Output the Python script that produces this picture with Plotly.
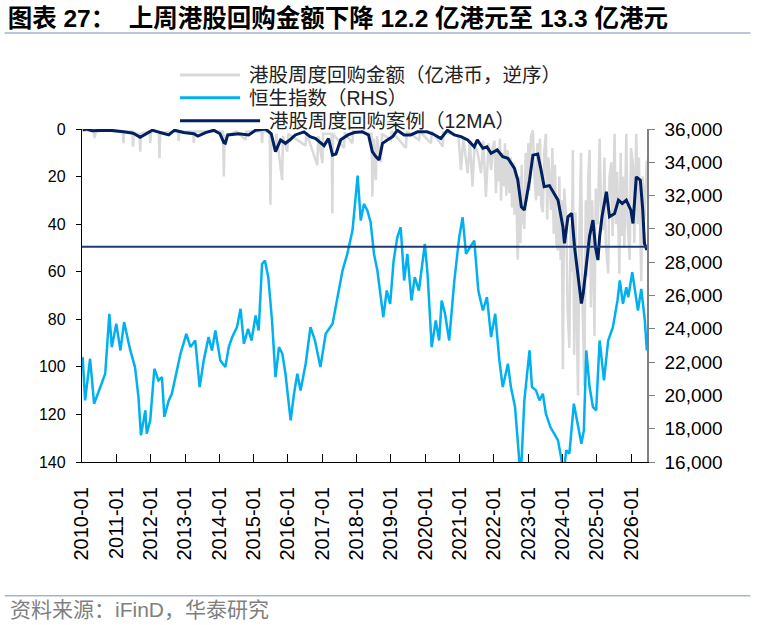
import plotly.graph_objects as go

# 港股周度回购金额（亿港币），左轴逆序
buyback_dates = [
    "2010-01-08", "2010-03-01", "2010-05-01", "2010-05-15", "2010-05-29", "2010-09-01",
    "2011-01-01", "2011-03-10", "2011-03-18", "2011-03-26", "2011-06-20", "2011-06-28",
    "2011-07-06", "2011-09-05", "2011-09-12", "2011-09-20", "2011-12-20", "2011-12-28",
    "2012-01-05", "2012-03-28", "2012-04-05", "2012-04-12", "2012-10-18", "2012-10-26",
    "2012-11-03", "2013-03-28", "2013-04-05", "2013-04-13", "2013-09-01", "2014-02-10",
    "2014-02-18", "2014-02-26", "2014-07-01", "2014-10-08", "2014-10-16", "2015-03-25",
    "2015-04-01", "2015-04-09", "2015-06-21", "2015-06-29", "2015-07-07", "2015-08-21",
    "2015-09-01", "2015-11-01", "2015-11-09", "2015-12-24", "2016-01-05", "2016-07-07",
    "2016-07-15", "2016-11-09", "2016-11-20", "2017-01-02", "2017-01-10", "2017-04-10",
    "2017-04-18", "2017-04-26", "2017-08-20", "2017-08-28", "2017-11-17", "2017-11-25",
    "2018-06-10", "2018-06-18", "2018-07-01", "2018-07-24", "2018-08-05", "2018-09-16",
    "2018-09-28", "2019-01-01", "2019-01-10", "2019-06-10", "2019-06-20", "2019-10-27",
    "2019-11-05", "2020-03-03", "2020-03-12", "2020-07-05", "2020-07-15", "2020-10-01",
    "2020-12-20", "2021-01-15", "2021-02-10", "2021-03-28", "2021-04-20", "2021-05-18",
    "2021-06-10", "2021-07-12", "2021-08-17", "2021-09-10", "2021-10-08", "2021-11-05",
    "2021-12-02", "2021-12-20",
    "2022-01-07", "2022-01-23", "2022-02-06", "2022-02-20", "2022-03-06", "2022-03-18",
    "2022-04-01", "2022-04-15", "2022-04-29", "2022-05-13", "2022-05-27", "2022-06-15",
    "2022-06-29", "2022-07-13", "2022-07-27", "2022-08-08", "2022-08-22", "2022-09-12",
    "2022-09-26", "2022-10-10", "2022-10-24", "2022-11-07", "2022-11-21", "2022-12-05",
    "2022-12-19", "2023-01-02", "2023-01-16", "2023-01-30", "2023-02-20", "2023-03-06",
    "2023-03-25", "2023-04-08", "2023-04-22", "2023-05-06", "2023-05-20", "2023-06-06",
    "2023-06-20", "2023-07-08", "2023-07-22", "2023-08-05", "2023-08-19", "2023-09-01",
    "2023-09-15", "2023-09-29", "2023-10-13", "2023-10-27", "2023-11-14", "2023-11-28",
    "2023-12-12", "2023-12-22", "2024-01-05", "2024-01-19", "2024-02-10", "2024-02-24",
    "2024-03-14", "2024-03-28", "2024-04-08", "2024-04-20", "2024-05-04", "2024-05-18",
    "2024-06-01", "2024-06-14", "2024-06-28", "2024-07-16", "2024-07-30", "2024-08-21",
    "2024-09-04", "2024-09-18", "2024-10-01", "2024-10-15", "2024-10-29", "2024-11-12",
    "2024-11-26", "2024-12-06", "2024-12-20", "2025-01-10", "2025-01-30", "2025-02-14",
    "2025-03-08", "2025-03-22", "2025-04-05", "2025-05-01", "2025-05-15", "2025-06-03",
    "2025-06-17", "2025-07-08", "2025-07-22", "2025-08-05", "2025-08-28", "2025-09-11",
    "2025-09-25", "2025-10-05", "2025-10-20", "2025-11-10", "2025-11-24", "2025-12-16",
    "2025-12-30", "2026-01-20", "2026-02-03", "2026-02-24", "2026-03-10", "2026-03-24",
    "2026-04-18", "2026-05-02", "2026-05-22", "2026-06-16",
]
buyback_vals = [
    1, 0.5, 1, 3.8, 1, 0.5,
    1, 1, 6, 1, 1, 7.4,
    2, 2, 9.5, 2, 1, 6,
    1, 1, 12.3, 1.5, 1, 5,
    1, 1, 6, 1, 1, 1,
    20, 3, 1, 4.6, 1, 1,
    6, 1, 1, 31.8, 3, 9.5,
    2, 21.5, 3, 9.5, 2, 7,
    1.5, 15.2, 3, 14.4, 2, 2,
    35.5, 2, 8, 1.5, 6, 1,
    2, 28.5, 4, 21.5, 3, 14,
    2, 4.6, 1, 8, 1, 4.6,
    1, 6, 1, 7.4, 1.5, 2,
    3, 17.3, 4, 18.6, 5, 24.3,
    6, 10, 18.6, 5, 28.5, 6,
    17.3, 8,
    5, 27, 8, 22, 4, 30,
    10, 24, 6, 28, 9, 27,
    12, 33, 14, 36, 18, 55,
    20, 48, 15, 38, 42, 10,
    30, 6, 26, 3, 0.5, 18,
    30, 6, 28, 4, 32, 35,
    10, 2, 38, 12, 25, 34,
    8, 44, 15, 48, 51, 20,
    55, 30, 101, 25, 38, 76,
    92, 40, 60, 8.8, 95, 35,
    80, 112, 45, 10, 70, 108,
    30, 62, 20, 8.8, 75, 30,
    60, 87, 25, 40, 4, 33,
    42.5, 12, 48, 60.7, 20, 14,
    45, 2, 40, 18, 61, 10,
    45, 20, 50, 2, 40, 55,
    8, 15, 48, 2, 40, 12,
    64, 20, 38, 13.3,
]

# 恒生指数（RHS）
hsi_dates = [
    "2010-01-08", "2010-02-03", "2010-03-28", "2010-05-10", "2010-09-05", "2010-10-19",
    "2010-11-14", "2011-01-01", "2011-02-14", "2011-03-25", "2011-05-30", "2011-07-19",
    "2011-08-25", "2011-09-20", "2011-11-06", "2011-11-21", "2011-12-28", "2012-02-10",
    "2012-03-25", "2012-05-01", "2012-05-26", "2012-07-12", "2012-08-14", "2012-10-08",
    "2012-11-14", "2013-01-15", "2013-02-28", "2013-04-20", "2013-06-06", "2013-07-19",
    "2013-09-09", "2013-10-15", "2013-11-20", "2014-01-12", "2014-03-06", "2014-04-12",
    "2014-05-18", "2014-07-08", "2014-08-15", "2014-09-20", "2014-11-03", "2014-12-10",
    "2015-01-22", "2015-02-24", "2015-04-01", "2015-05-01", "2015-06-06", "2015-07-16",
    "2015-08-22", "2015-09-28", "2015-11-03", "2015-12-06", "2016-01-30", "2016-03-06",
    "2016-04-10", "2016-05-15", "2016-07-08", "2016-08-28", "2016-10-15", "2016-12-12",
    "2017-02-06", "2017-04-20", "2017-06-10", "2017-08-04", "2017-09-24", "2017-11-18",
    "2018-01-12", "2018-02-14", "2018-03-20", "2018-04-26", "2018-05-30", "2018-07-05",
    "2018-08-10", "2018-10-12", "2018-11-18", "2018-12-24", "2019-01-30", "2019-03-10",
    "2019-04-15", "2019-05-22", "2019-06-25", "2019-08-08", "2019-09-12", "2019-10-26",
    "2019-12-28", "2020-01-26", "2020-03-10", "2020-04-22", "2020-05-28", "2020-06-24",
    "2020-07-30", "2020-09-12", "2020-11-06", "2020-12-28", "2021-02-02", "2021-03-10",
    "2021-04-22", "2021-06-06", "2021-07-19", "2021-09-06", "2021-10-19", "2021-12-02",
    "2022-01-15", "2022-02-28", "2022-04-05", "2022-05-30", "2022-07-01", "2022-08-14",
    "2022-09-28", "2022-10-12", "2022-10-24", "2022-11-21", "2023-01-15", "2023-02-10",
    "2023-03-25", "2023-05-01", "2023-06-06", "2023-07-08", "2023-08-25", "2023-10-08",
    "2023-11-14", "2023-12-16", "2024-01-12", "2024-02-10", "2024-03-14", "2024-05-01",
    "2024-06-14", "2024-07-20", "2024-08-15", "2024-09-10", "2024-10-15", "2024-11-20",
    "2024-12-24", "2025-01-30", "2025-03-17", "2025-05-01", "2025-06-20", "2025-08-08",
    "2025-09-02", "2025-10-05", "2025-11-10", "2025-12-01", "2026-01-12", "2026-02-06",
    "2026-03-14", "2026-04-18", "2026-05-26", "2026-06-16",
]
hsi_vals = [
    22300, 19700, 22200, 19500, 21300, 24900,
    22900, 24300, 22700, 24400, 22700, 21700,
    19900, 17600, 19100, 17700, 18500, 21600,
    20900, 21100, 18700, 19700, 20100, 21500,
    22500, 23700, 22900, 23300, 20500, 22100,
    23500, 22700, 23900, 22100, 21700, 22900,
    23500, 24100, 25200, 23100, 24000, 23300,
    24800, 23900, 27900, 28100, 27100, 24500,
    21100, 22900, 22500, 21300, 18500, 20100,
    21300, 20300, 21900, 24100, 23300, 21700,
    23700, 24300, 25900, 27500, 28500, 29900,
    33200, 30500, 31500, 31100, 30400, 28500,
    27500, 24700, 26300, 25500, 28100, 29500,
    30100, 26900, 28500, 25700, 27100, 26300,
    29100, 27300, 22900, 24500, 23300, 25700,
    24900, 23300, 26900, 29500, 30700, 28500,
    28900, 29300, 26300, 25100, 25900, 23500,
    24900, 22100, 20500, 21900, 20500, 19300,
    16100, 15000, 16300, 19700, 22700, 20500,
    20300, 19700, 20100, 18900, 18100, 17700,
    17300, 16300, 15300, 16700, 16500, 19500,
    18300, 17100, 17900, 22700, 20500, 19300,
    19100, 23300, 20900, 23300, 24100, 25700,
    26900, 25500, 26500, 25900, 27400, 26500,
    25100, 26400, 24500, 22700,
]

# 港股周度回购案例（12MA），左轴逆序
ma_dates = [
    "2010-01-08", "2010-02-20", "2010-04-20", "2010-10-26", "2011-03-18", "2011-07-01",
    "2011-09-12", "2011-11-21", "2012-01-20", "2012-04-12", "2012-07-12", "2012-09-12",
    "2012-12-16", "2013-04-05", "2013-05-18", "2013-08-08", "2013-11-03", "2014-01-08",
    "2014-02-18", "2014-03-06", "2014-04-01", "2014-07-26", "2014-11-10", "2015-01-22",
    "2015-05-08", "2015-07-08", "2015-08-22", "2015-10-15", "2015-12-06", "2016-01-30",
    "2016-03-20", "2016-06-20", "2016-08-25", "2016-10-22", "2017-01-20", "2017-03-08",
    "2017-04-20", "2017-05-26", "2017-07-16", "2017-10-01", "2017-12-06", "2018-03-04",
    "2018-05-08", "2018-06-17", "2018-07-24", "2018-08-28", "2018-10-04", "2018-11-24",
    "2019-01-20", "2019-03-10", "2019-05-22", "2019-07-30", "2019-10-12", "2020-01-20",
    "2020-03-20", "2020-06-16", "2020-08-24", "2020-11-06", "2021-01-15", "2021-03-28",
    "2021-06-06", "2021-07-08", "2021-09-06", "2021-10-19", "2021-12-02", "2022-02-06",
    "2022-04-05", "2022-05-30", "2022-07-01", "2022-08-08", "2022-09-12", "2022-10-20",
    "2022-11-21", "2022-12-24", "2023-01-15", "2023-02-20", "2023-04-12", "2023-05-18",
    "2023-06-20", "2023-08-15", "2023-10-01", "2023-11-14", "2024-01-05", "2024-01-22",
    "2024-02-28", "2024-04-08", "2024-05-08", "2024-06-14", "2024-07-20", "2024-08-08",
    "2024-09-10", "2024-10-15", "2024-11-20", "2024-12-16", "2025-01-12", "2025-01-30",
    "2025-02-24", "2025-04-12", "2025-05-15", "2025-07-08", "2025-08-18", "2025-09-28",
    "2025-11-10", "2025-12-28", "2026-01-20", "2026-02-24", "2026-04-08", "2026-05-04",
    "2026-05-22", "2026-06-16",
]
ma_vals = [
    0.3, 0, 0.7, 0.5, 1.2, 1.8,
    3.5, 1.8, 0.5, 1.5, 2.5, 0.5,
    1.5, 2.0, 3.0, 1.5, 0.5, 2.0,
    5.7, 6.0, 2.5, 2.0, 2.5, 0.5,
    0.0, 2.0, 9.5, 4.6, 6.0, 4.3,
    2.5, 1.2, 3.2, 4.0, 7.0, 4.0,
    11.0, 10.5, 4.5, 2.5, 1.5, 1.2,
    2.5, 9.5, 11.6, 13.0, 6.0, 4.6,
    3.2, 0.5, 2.5, 2.5, 1.2, 1.2,
    2.0, 4.0, 0.5, 2.5, 3.2, 4.6,
    7.5, 4.6, 8.1, 7.5, 10.2, 8.8,
    11.6, 12.3, 14.4, 16.6, 21.5, 32.7,
    34.1, 27.0, 21.5, 11.0, 10.5, 17.3,
    24.3, 23.8, 27.1, 29.9, 41.1, 48.1,
    36.9, 35.5, 49.5, 62.2, 73.4, 69.2,
    58.0, 45.0, 38.3, 49.5, 55.1, 45.3,
    36.9, 26.4, 36.9, 35.5, 29.9, 31.3,
    29.9, 34.1, 39.7, 20.1, 21.5, 34.1,
    48.1, 50.9,
]

ref_level = 49.5  # 横线

fig = go.Figure()
fig.add_trace(go.Scatter(x=buyback_dates, y=buyback_vals, mode="lines",
                         line=dict(color="#d9d9d9", width=2.5), yaxis="y"))
fig.add_trace(go.Scatter(x=hsi_dates, y=hsi_vals, mode="lines",
                         line=dict(color="#00b0f0", width=2.5), yaxis="y2"))
fig.add_trace(go.Scatter(x=ma_dates, y=ma_vals, mode="lines",
                         line=dict(color="#002060", width=3), yaxis="y"))

tick_font = dict(family="Liberation Sans, Arial", color="#000000")
txt_font = "Liberation Sans, Noto Sans CJK SC"

fig.update_layout(
    width=765, height=625,
    margin=dict(l=82, r=118, t=129, b=163),
    paper_bgcolor="white", plot_bgcolor="white",
    showlegend=False,
    title=dict(text="<b>图表 27：  上周港股回购金额下降 12.2 亿港元至 13.3 亿港元</b>",
               x=0.01, xref="container", xanchor="left",
               y=0.971, yref="container", yanchor="middle",
               font=dict(family=txt_font, size=24.5, color="#000000")),
    xaxis=dict(type="date", range=["2010-01-01", "2026-06-18"],
               tick0="2010-01-01", dtick="M12", tickformat="%Y-%m",
               tickangle=-90, ticks="inside", ticklen=8, tickcolor="#000000",
               showline=True, linecolor="#000000", linewidth=1.3,
               showgrid=False, zeroline=False,
               tickfont=dict(size=20, **tick_font), ticklabelstandoff=16),
    yaxis=dict(range=[140, 0], tick0=0, dtick=20,
               ticks="outside", ticklen=5, tickcolor="#000000",
               showline=True, linecolor="#000000", linewidth=1.3,
               showgrid=False, zeroline=False,
               tickfont=dict(size=16, **tick_font), ticklabelstandoff=7),
    yaxis2=dict(range=[16000, 36000], tick0=16000, dtick=2000, tickformat=",",
                overlaying="y", side="right",
                ticks="outside", ticklen=6, tickcolor="#808080",
                showline=True, linecolor="#808080", linewidth=1.5,
                showgrid=False, zeroline=False,
                tickfont=dict(size=19, **tick_font), ticklabelstandoff=6),
)

# 横线
fig.add_shape(type="line", xref="paper", yref="y", x0=0, x1=1,
              y0=ref_level, y1=ref_level, line=dict(color="#1f3b73", width=2),
              layer="above")

# 标题下方与来源上方的分隔线
for yy in [1.288, -0.402]:
    fig.add_shape(type="line", xref="paper", yref="paper", x0=-0.137, x1=1.183,
                  y0=yy, y1=yy, line=dict(color="#a3b5cc", width=1.5))

# 图例（手动）
legend_items = [
    ("港股周度回购金额（亿港币，逆序）", "#d9d9d9", 1.162, 0.2798, 0.2922),
    ("恒生指数（RHS）", "#00b0f0", 1.094, 0.2798, 0.2922),
    ("港股周度回购案例（12MA）", "#002060", 1.025, 0.3152, 0.3276),
]
for name, color, ly, lx1, tx in legend_items:
    fig.add_shape(type="line", xref="paper", yref="paper", x0=0.1735, x1=lx1,
                  y0=ly, y1=ly, line=dict(color=color, width=3))
    fig.add_annotation(text=name, xref="paper", yref="paper", x=tx, y=ly,
                       xanchor="left", yanchor="middle", showarrow=False,
                       font=dict(family=txt_font, size=19.5, color="#222222"))

fig.add_annotation(text="资料来源：iFinD，华泰研究", xref="paper", yref="paper",
                   x=-0.131, y=-0.444, xanchor="left", yanchor="middle", showarrow=False,
                   font=dict(family=txt_font, size=21, color="#7f7f7f"))

# 页面默认留白会把图整体下移右移 8px，这里去掉
fig.write_html("out.html", config={"displayModeBar": False},
               post_script="document.body.style.margin='0';")
